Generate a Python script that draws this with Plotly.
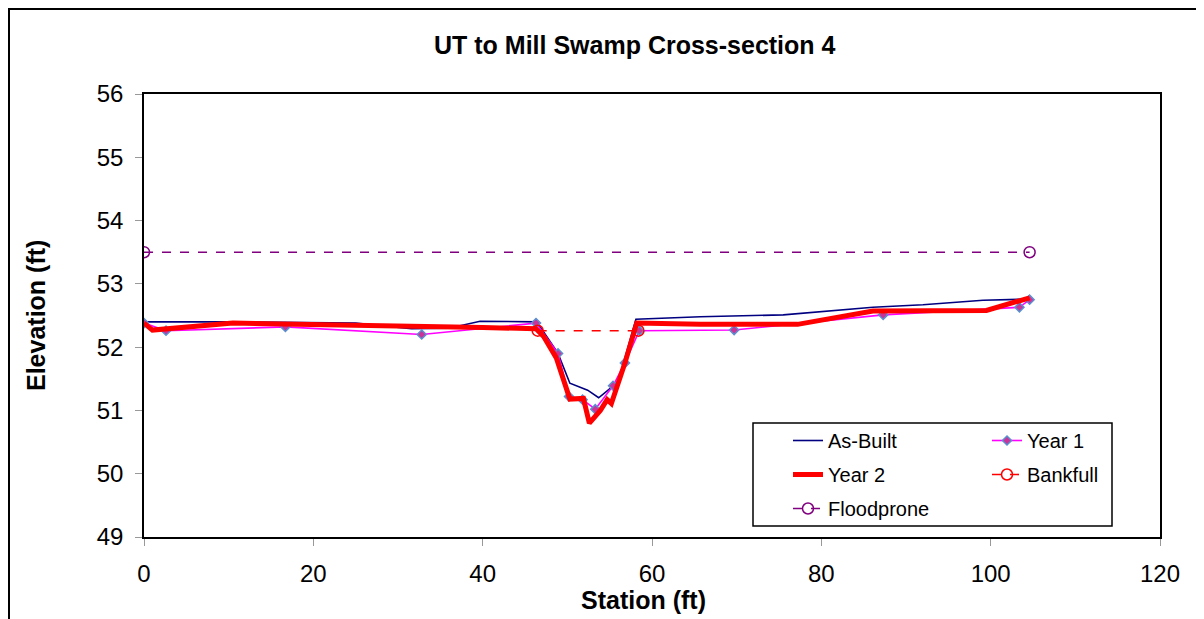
import plotly.graph_objects as go

# As-Built survey
asbuilt_x = [0, 10, 25, 31.6, 36, 39.7, 46.4, 48.9, 50.3, 52.4, 53.7, 55.0, 56.0, 58.1, 65.7, 75.5, 80, 86.1, 92, 99.1, 104.6]
asbuilt_y = [52.40, 52.40, 52.38, 52.29, 52.30, 52.41, 52.40, 51.90, 51.43, 51.32, 51.20, 51.35, 51.45, 52.44, 52.48, 52.51, 52.56, 52.63, 52.67, 52.74, 52.76]

# Year 1 survey
year1_x = [0, 2.6, 16.7, 32.8, 46.3, 48.9, 50.2, 51.8, 53.3, 55.4, 56.8, 58.5, 69.7, 87.3, 103.4, 104.6]
year1_y = [52.38, 52.26, 52.32, 52.20, 52.38, 51.90, 51.22, 51.17, 51.02, 51.39, 51.75, 52.26, 52.27, 52.51, 52.63, 52.75]

# Year 2 survey
year2_x = [0, 1.0, 10.5, 27.9, 40, 46.3, 47.2, 48.7, 50.3, 51.9, 52.6, 53.9, 54.7, 55.2, 56.8, 58.2, 65.7, 77.2, 86.1, 99.5, 104.6]
year2_y = [52.38, 52.27, 52.38, 52.35, 52.31, 52.29, 52.17, 51.83, 51.18, 51.19, 50.80, 51.00, 51.17, 51.11, 51.75, 52.38, 52.36, 52.36, 52.57, 52.58, 52.78]

# Bankfull and floodprone elevations
bankfull_x = [46.5, 58.4]
bankfull_y = [52.26, 52.26]
flood_x = [0, 104.6]
flood_y = [53.5, 53.5]

x_ticks = [0, 20, 40, 60, 80, 100, 120]
y_ticks = [49, 50, 51, 52, 53, 54, 55, 56]

# page has an 8px body margin; figure is sized to fill the remaining window
OFF = 8
W, H = 1204 - OFF, 619 - OFF
L, R, T, B = 144, 1160, 94, 537          # plot area in page pixels
pw, ph = R - L, B - T

def px(x):
    return (x - L) / pw

def py(y):
    return (B - y) / ph

FONT = "Liberation Sans, Arial"

fig = go.Figure()
fig.add_trace(go.Scatter(x=asbuilt_x, y=asbuilt_y, mode="lines", name="As-Built",
                         legend="legend", legendgroup="a",
                         line=dict(color="#000080", width=1.6)))
fig.add_trace(go.Scatter(x=year1_x, y=year1_y, mode="lines+markers", name="Year 1",
                         legend="legend2", legendgroup="b",
                         line=dict(color="#FF00FF", width=1.6),
                         marker=dict(symbol="diamond", size=7, color="#CC3399",
                                     line=dict(color="#5B8FD0", width=1.5))))
fig.add_trace(go.Scatter(x=year2_x, y=year2_y, mode="lines", name="Year 2",
                         legend="legend", legendgroup="c",
                         line=dict(color="#FF0000", width=5)))
fig.add_trace(go.Scatter(x=bankfull_x, y=bankfull_y, mode="lines+markers", name="Bankfull",
                         legend="legend2", legendgroup="d",
                         line=dict(color="#FF0000", width=1.6, dash="dash"),
                         marker=dict(symbol="circle-open", size=11, color="#FF0000",
                                     line=dict(width=1.5))))
fig.add_trace(go.Scatter(x=flood_x, y=flood_y, mode="lines+markers", name="Floodprone",
                         legend="legend", legendgroup="e",
                         line=dict(color="#800080", width=1.6, dash="dash"),
                         marker=dict(symbol="circle-open", size=11, color="#800080",
                                     line=dict(width=1.5))))

axis_common = dict(showgrid=False, zeroline=False, showline=True, linecolor="black",
                   linewidth=1.5, mirror=True, ticks="outside", tickcolor="#999999",
                   ticklen=7, tickwidth=1, ticklabelstandoff=7,
                   tickfont=dict(family=FONT, size=24, color="black"))

legend_common = dict(orientation="v", xanchor="left", yanchor="top",
                     bgcolor="rgba(0,0,0,0)", borderwidth=0,
                     font=dict(family=FONT, size=20, color="black"),
                     traceorder="grouped", tracegroupgap=5)

fig.update_layout(
    width=W, height=H,
    margin=dict(l=L - OFF, r=1204 - R, t=T - OFF, b=619 - B, autoexpand=False),
    paper_bgcolor="white", plot_bgcolor="white",
    xaxis=dict(range=[0, 120], tickvals=x_ticks, **axis_common),
    yaxis=dict(range=[49, 56], tickvals=y_ticks, **axis_common),
    showlegend=True,
    legend=dict(x=px(788), y=py(421), **legend_common),
    legend2=dict(x=px(987), y=py(421), **legend_common),
    annotations=[
        dict(text="<b>UT to Mill Swamp Cross-section 4</b>", xref="paper", yref="paper",
             x=px(635), y=py(45), xanchor="center", yanchor="middle",
             showarrow=False, font=dict(family=FONT, size=25, color="black")),
        dict(text="<b>Station (ft)</b>", xref="paper", yref="paper",
             x=px(643), y=py(600), xanchor="center", yanchor="middle",
             showarrow=False, font=dict(family=FONT, size=25, color="black")),
        dict(text="<b>Elevation (ft)</b>", xref="paper", yref="paper", textangle=-90,
             x=px(36), y=py(316), xanchor="center", yanchor="middle",
             showarrow=False, font=dict(family=FONT, size=25, color="black")),
    ],
    shapes=[
        dict(type="rect", xref="paper", yref="paper",
             x0=px(9), x1=px(1215), y0=py(630), y1=py(9),
             line=dict(color="black", width=2), fillcolor="rgba(0,0,0,0)", layer="below"),
        dict(type="rect", xref="paper", yref="paper",
             x0=px(753), x1=px(1112), y0=py(526), y1=py(423),
             line=dict(color="black", width=1.5), fillcolor="white", layer="above"),
    ],
)

fig.write_html("out.html")
